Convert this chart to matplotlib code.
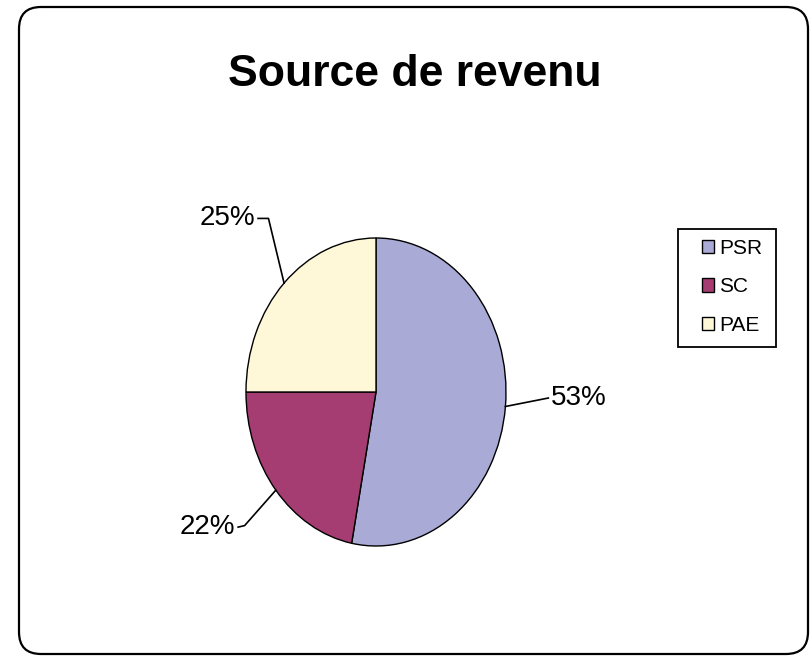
import matplotlib
matplotlib.use("Agg")
import matplotlib.pyplot as plt
import numpy as np
from matplotlib.patches import FancyBboxPatch, Patch, Rectangle

categories = ["PSR", "SC", "PAE"]
values = [53, 22, 25]
pct_labels = ["53%", "22%", "25%"]
colors = ["#A9AAD6", "#A53D72", "#FFF8D8"]

FONT = ["Liberation Sans Narrow", "Liberation Sans", "DejaVu Sans"]
plt.rcParams["font.family"] = FONT

W, H = 810, 656
fig = plt.figure(figsize=(W / 100, H / 100), dpi=100)

# rounded outer frame
frame = FancyBboxPatch((0.19, 0.02), 7.89, 6.47,
                       boxstyle="round,pad=0,rounding_size=0.22",
                       transform=fig.dpi_scale_trans, facecolor="white",
                       edgecolor="black", linewidth=1.6, zorder=-5)
fig.patches.append(frame)

fig.text(415 / W, 1 - 74 / H, "Source de revenu", ha="center", va="center",
         fontsize=32, fontweight="bold")

cx, cy, rx, ry = 376, 392, 130, 154
ax = fig.add_axes([(cx - rx) / W, (H - cy - ry) / H, 2 * rx / W, 2 * ry / H])
ax.set_zorder(2)
wedges, _ = ax.pie(values, colors=colors, startangle=90, counterclock=False,
                   wedgeprops=dict(edgecolor="black", linewidth=1.0))
ax.set_aspect("auto")
ax.set_xlim(-1, 1)
ax.set_ylim(-1, 1)
ax.axis("off")

# leader line offsets (bend point, end point) relative to wedge midpoint, in data units
leader = [
    dict(bend=None, end=(0.33, 0.055), ha="left"),
    dict(bend=(-0.24, -0.23), end=(-0.29, -0.24), ha="right"),
    dict(bend=(-0.12, 0.42), end=(-0.20, 0.42), ha="right"),
]
for w, lab, ld in zip(wedges, pct_labels, leader):
    mid = np.deg2rad((w.theta1 + w.theta2) / 2)
    sx, sy = np.cos(mid), np.sin(mid)
    pts = [(sx, sy)]
    if ld["bend"] is not None:
        pts.append((sx + ld["bend"][0], sy + ld["bend"][1]))
    ex, ey = sx + ld["end"][0], sy + ld["end"][1]
    pts.append((ex, ey))
    xs, ys = zip(*pts)
    ax.plot(xs, ys, color="black", linewidth=1.2, clip_on=False)
    dx = 0.02 if ld["ha"] == "left" else -0.02
    ax.text(ex + dx, ey, lab, ha=ld["ha"], va="center", fontsize=20)

# legend frame
fig.patches.append(Rectangle((678, H - 347), 98, 118, transform=None,
                             facecolor="white", edgecolor="black",
                             linewidth=1.3, zorder=1))
handles = [Patch(facecolor=c, edgecolor="black", linewidth=1.0) for c in colors]
leg = fig.legend(handles, categories, loc="upper left",
                 bbox_to_anchor=(689 / W, 1 - 226 / H), fontsize=15,
                 frameon=False,
                 handlelength=0.6, handleheight=0.6, handletextpad=0.25,
                 labelspacing=0.95, borderpad=0.6, borderaxespad=0)
leg.set_zorder(3)

fig.savefig("out.png", dpi=100)
